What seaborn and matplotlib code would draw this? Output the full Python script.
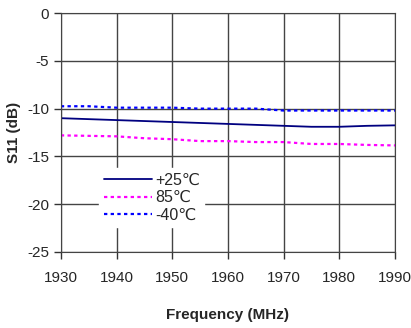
import numpy as np
import pandas as pd
import matplotlib
matplotlib.use("Agg")
import matplotlib.pyplot as plt
import seaborn as sns

# S11 vs frequency at three temperatures
freq = [1930, 1935, 1940, 1945, 1950, 1955, 1960, 1965, 1970, 1975, 1980, 1985, 1990]
s11_25 = [-11.0, -11.1, -11.2, -11.3, -11.4, -11.5, -11.6, -11.7, -11.8, -11.9, -11.9, -11.8, -11.75]
s11_85 = [-12.8, -12.85, -12.9, -13.1, -13.2, -13.4, -13.4, -13.5, -13.5, -13.7, -13.7, -13.8, -13.85]
s11_m40 = [-9.75, -9.75, -9.9, -9.9, -9.9, -10.0, -10.0, -10.0, -10.2, -10.2, -10.2, -10.2, -10.2]
labels = ["+25℃", "85℃", "-40℃"]

sns.set_style("white")
plt.rcParams['font.family'] = ['Liberation Sans', 'DejaVu Sans']
plt.rcParams['axes.unicode_minus'] = False

fig = plt.figure(figsize=(4.11, 3.28), dpi=100)
ax = fig.add_axes([0.148, 0.232, 0.813, 0.728])

sns.lineplot(x=freq, y=s11_25, ax=ax, color='#000080', linewidth=1.3, label=labels[0])
sns.lineplot(x=freq, y=s11_85, ax=ax, color='#ff00ff', linewidth=1.6, linestyle=(0, (1.5, 1.5)), label=labels[1])
sns.lineplot(x=freq, y=s11_m40, ax=ax, color='#0000ff', linewidth=1.6, linestyle=(0, (1.5, 1.5)), label=labels[2])

ax.set_xlim(1930, 1990)
ax.set_ylim(-25, 0)
ax.set_xticks(range(1930, 1991, 10))
ax.set_yticks(range(-25, 1, 5))
ax.grid(True, color='#444444', linewidth=1.0)
for s in ax.spines.values():
    s.set_color('#444444')
ax.tick_params(axis='both', direction='out', length=5, width=1, color='#333333',
               labelsize=11, bottom=True, left=True)
ax.tick_params(axis='x', pad=9)
ax.set_xlabel("Frequency (MHz)", fontsize=11, fontweight='bold', labelpad=16)
ax.set_ylabel("S11 (dB)", fontsize=11, fontweight='bold', labelpad=4)

leg = ax.legend(loc='upper left', bbox_to_anchor=(0.09, 0.385), frameon=True,
                handlelength=3.0, handletextpad=0.2, labelspacing=0.15, borderpad=0.3,
                prop={'family': ['Liberation Sans', 'DejaVu Sans'], 'size': 11.5})
leg.get_frame().set_edgecolor('white')
leg.get_frame().set_facecolor('white')
leg.get_frame().set_alpha(1.0)
leg.get_frame().set_boxstyle('square', pad=0)

fig.savefig("out.png", dpi=100)
